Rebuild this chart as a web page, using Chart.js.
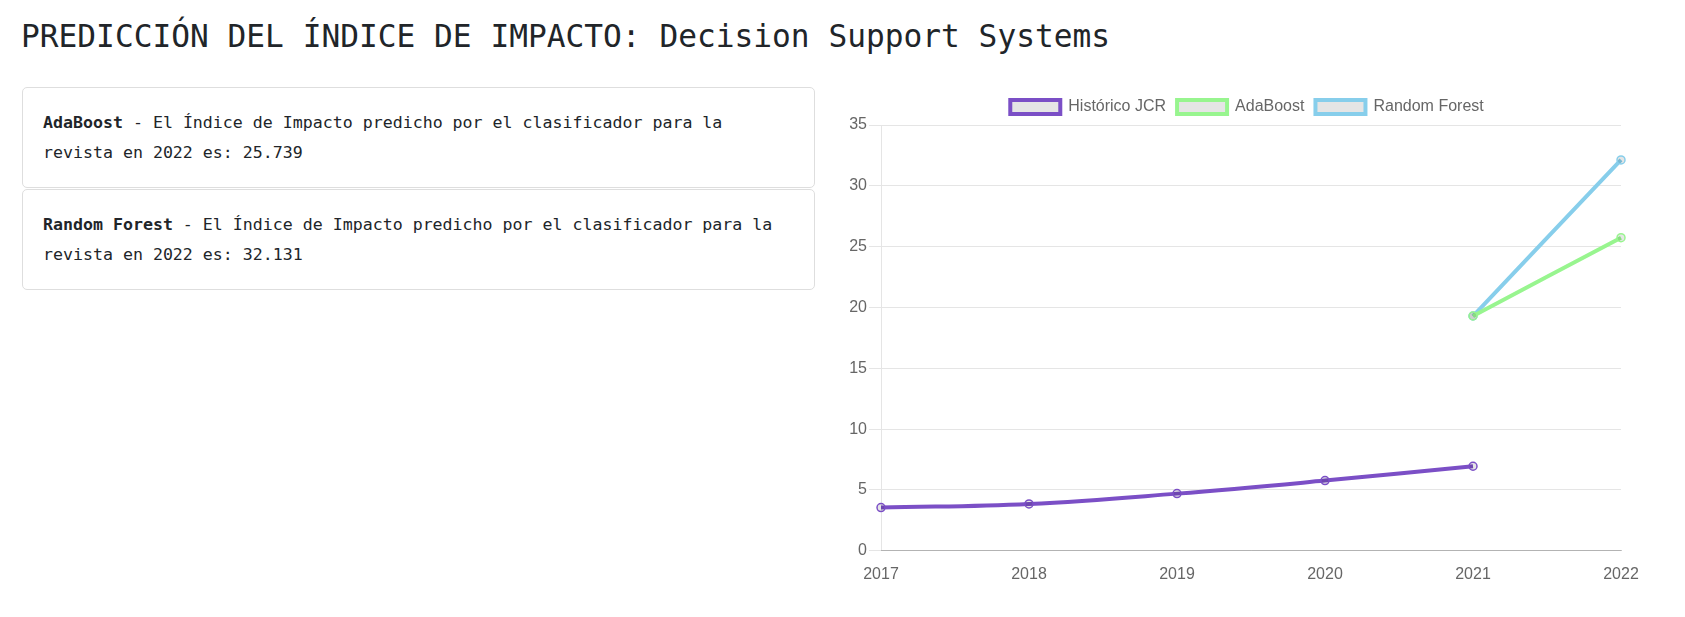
<!DOCTYPE html>
<html>
<head>
<meta charset="utf-8">
<script src="https://cdn.jsdelivr.net/npm/chart.js@4.4.0/dist/chart.umd.min.js"></script>
<style>
  html, body { margin: 0; padding: 0; background: #fff; }
  body { width: 1685px; height: 617px; position: relative; overflow: hidden; color: #212529; }
  #title {
    position: absolute; left: 21px; top: 21px;
    font-family: 'DejaVu Sans Mono', monospace; font-size: 31.2px; line-height: 31.2px;
    white-space: nowrap; font-weight: normal; margin: 0;
  }
  .card {
    position: absolute; left: 22px; width: 793px;
    border: 1px solid #dedede; border-radius: 5px;
    padding: 20px 20px; box-sizing: border-box; height: 101px;
    font-family: 'DejaVu Sans Mono', monospace; font-size: 16.6px; line-height: 30px;
  }
  #card1 { top: 87px; }
  #card2 { top: 189px; }
  #chartBox { position: absolute; left: 830px; top: 88px; width: 834px; height: 498px; }
</style>
</head>
<body>
<div id="title">PREDICCIÓN DEL ÍNDICE DE IMPACTO: Decision Support Systems</div>
<div class="card" id="card1"><b>AdaBoost</b> - El Índice de Impacto predicho por el clasificador para la revista en 2022 es: 25.739</div>
<div class="card" id="card2"><b>Random Forest</b> - El Índice de Impacto predicho por el clasificador para la revista en 2022 es: 32.131</div>
<div id="chartBox"><canvas id="c"></canvas></div>
<script>
const years = ['2017', '2018', '2019', '2020', '2021', '2022'];
const historicoJCR = [3.55, 3.85, 4.70, 5.77, 6.95, null];
const adaBoost = [null, null, null, null, 19.3, 25.739];
const randomForest = [null, null, null, null, 19.3, 32.131];
const seriesNames = ['Histórico JCR', 'AdaBoost', 'Random Forest'];
const seriesColors = ['#7B4FC6', '#98F58F', '#87CEEB'];
const yMin = 0, yMax = 35, yStep = 5;

Chart.defaults.font.family = "'Liberation Sans', Arial, Helvetica, sans-serif";
Chart.defaults.font.size = 16;
Chart.defaults.color = '#666';

const mk = (label, data, color) => ({
  label, data,
  borderColor: color,
  backgroundColor: 'rgba(0,0,0,0.1)',
  borderWidth: 4,
  pointRadius: 4,
  pointBorderWidth: 1.5,
  pointBorderColor: color,
  pointBackgroundColor: 'rgba(0,0,0,0.1)',
  tension: 0.4,
  fill: false,
  spanGaps: false
});

new Chart(document.getElementById('c'), {
  type: 'line',
  data: {
    labels: years,
    datasets: [
      mk(seriesNames[0], historicoJCR, seriesColors[0]),
      mk(seriesNames[1], adaBoost, seriesColors[1]),
      mk(seriesNames[2], randomForest, seriesColors[2])
    ]
  },
  options: {
    responsive: true,
    maintainAspectRatio: false,
    animation: false,
    layout: { padding: 0 },
    plugins: {
      legend: {
        position: 'top',
        labels: { boxWidth: 50, boxHeight: 14, padding: 11, font: { size: 16 }, color: '#666' }
      },
      tooltip: { enabled: false }
    },
    scales: {
      x: {
        grid: { display: false, drawTicks: true, tickLength: 12 },
        border: { display: true, color: 'rgba(0,0,0,0.22)' },
        ticks: { padding: 2, maxRotation: 0 },
        afterFit: (s) => { s.paddingRight = 43; }
      },
      y: {
        min: yMin, max: yMax,
        ticks: { stepSize: yStep, padding: 2 },
        grid: { color: 'rgba(0,0,0,0.1)', tickLength: 12 },
        border: { display: true, color: 'rgba(0,0,0,0.1)' },
        afterFit: (s) => { s.width = 51; }
      }
    }
  }
});
</script>
</body>
</html>
